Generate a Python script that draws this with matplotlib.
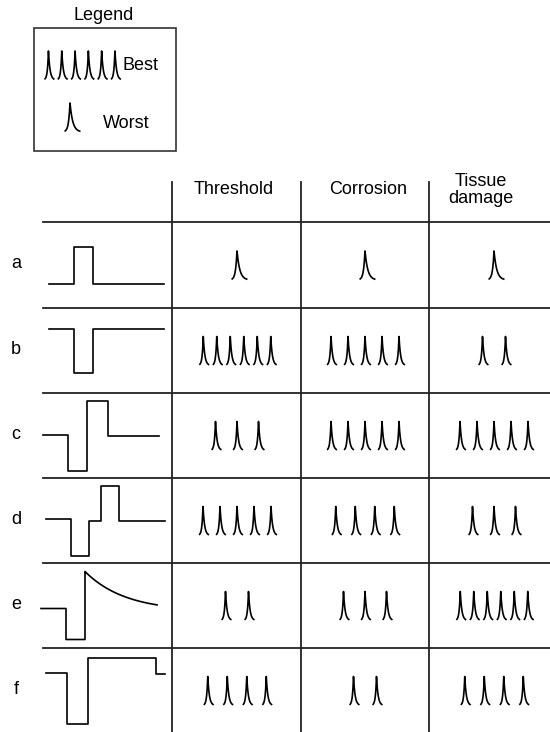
import numpy as np
import matplotlib
matplotlib.use("Agg")
import matplotlib.pyplot as plt
from matplotlib.patches import Rectangle

plt.rcParams['font.family'] = ['Liberation Sans', 'DejaVu Sans']

# data: number of spikes per waveform (more spikes = better)
row_labels = ['a', 'b', 'c', 'd', 'e', 'f']
col_labels = ['Threshold', 'Corrosion', 'Tissue\ndamage']
threshold = [1, 6, 3, 5, 2, 4]
corrosion = [1, 5, 5, 4, 3, 2]
tissue = [1, 2, 5, 3, 6, 4]

# stimulus waveforms: time steps and levels (up is positive)
wave_t = [
    [0, 25, 25, 44, 44, 115],
    [0, 25, 25, 44, 44, 115],
    [0, 25, 25, 44, 44, 65, 65, 116],
    [0, 25, 25, 43, 43, 55, 55, 73, 73, 119],
    [0, 25, 25, 44, 44],
    [0, 21, 21, 42, 42, 110, 110, 119],
]
wave_v = [
    [0, 0, 37, 37, 0, 0],
    [0, 0, -44, -44, 0, 0],
    [0, 0, -36, -36, 34, 34, -1, -1],
    [0, 0, -37, -37, -2, -2, 33, 33, -2, -2],
    [0, 0, -31, -31, 37],
    [0, 0, -51, -51, 15, 15, -1, -1],
]
wave_x0 = [49, 49, 43, 46, 41, 46]
# row e ends with an exponential decay
decay_len, decay_tau, decay_end = 72, 40, -3

# layout
W, H = 550, 732
row_edges = [222, 308, 393, 478, 563, 648, 733]
col_edges = [172, 301, 429]
col_centers = [237, 365, 494]
header_x = [234, 368, 481]
spacing = {1: 0, 2: 23, 3: 21.5, 4: 19.5, 5: 17, 6: 13.5}
line_col = '#222222'
fs = 13


def spike(ax, x0, ybot, wide=False, h=29, k=3.8):
    left, right = (5.5, 10.5) if wide else (4, 6)
    s = np.linspace(0, 1, 80)
    y = ybot - h * np.exp(-k * s)
    xs = np.r_[(x0 - left * s)[::-1], x0 + right * s]
    ys = np.r_[y[::-1], y]
    ax.plot(xs, ys, color='black', lw=1.2, solid_capstyle='butt')


def spike_group(ax, xc, ybot, n, gap):
    for i in range(n):
        spike(ax, xc + (i - (n - 1) / 2) * gap, ybot, wide=(n == 1))


fig = plt.figure(figsize=(W / 100, H / 100), dpi=100)
ax = fig.add_axes([0, 0, 1, 1])
ax.set_xlim(0, W)
ax.set_ylim(H, 0)
ax.axis('off')

# legend
ax.text(104, 15, 'Legend', ha='center', va='center', fontsize=fs)
ax.add_patch(Rectangle((34, 28), 142, 123, fill=False, ec='#333333', lw=1.2))
spike_group(ax, 81.7, 80, 6, 13.3)
ax.text(123, 65, 'Best', ha='left', va='center', fontsize=fs)
spike(ax, 70, 132, wide=True)
ax.text(103, 123, 'Worst', ha='left', va='center', fontsize=fs)

# table grid
for y in row_edges[:-1]:
    ax.plot([43, W], [y, y], color=line_col, lw=1.3)
for x in col_edges:
    ax.plot([x, x], [182, H], color=line_col, lw=1.3)

for x, lab in zip(header_x, col_labels):
    ax.text(x, 190, lab, ha='center', va='center', fontsize=fs, linespacing=1.05)

counts = [threshold, corrosion, tissue]
for r, lab in enumerate(row_labels):
    yc = (row_edges[r] + row_edges[r + 1]) / 2
    ax.text(16, yc - 1, lab, ha='center', va='center', fontsize=fs)

    t = np.array(wave_t[r], float)
    v = np.array(wave_v[r], float)
    if r == 4:
        td = np.linspace(0, decay_len, 100)
        vd = decay_end + (v[-1] - decay_end) * np.exp(-td / decay_tau)
        t = np.r_[t, t[-1] + td]
        v = np.r_[v, vd]
    base = yc + (v.max() + v.min()) / 2
    ax.plot(wave_x0[r] + t, base - v, color='black', lw=1.2)

    for c in range(3):
        n = counts[c][r]
        spike_group(ax, col_centers[c], yc + 15, n, spacing[n])

fig.savefig('out.png', dpi=100)
